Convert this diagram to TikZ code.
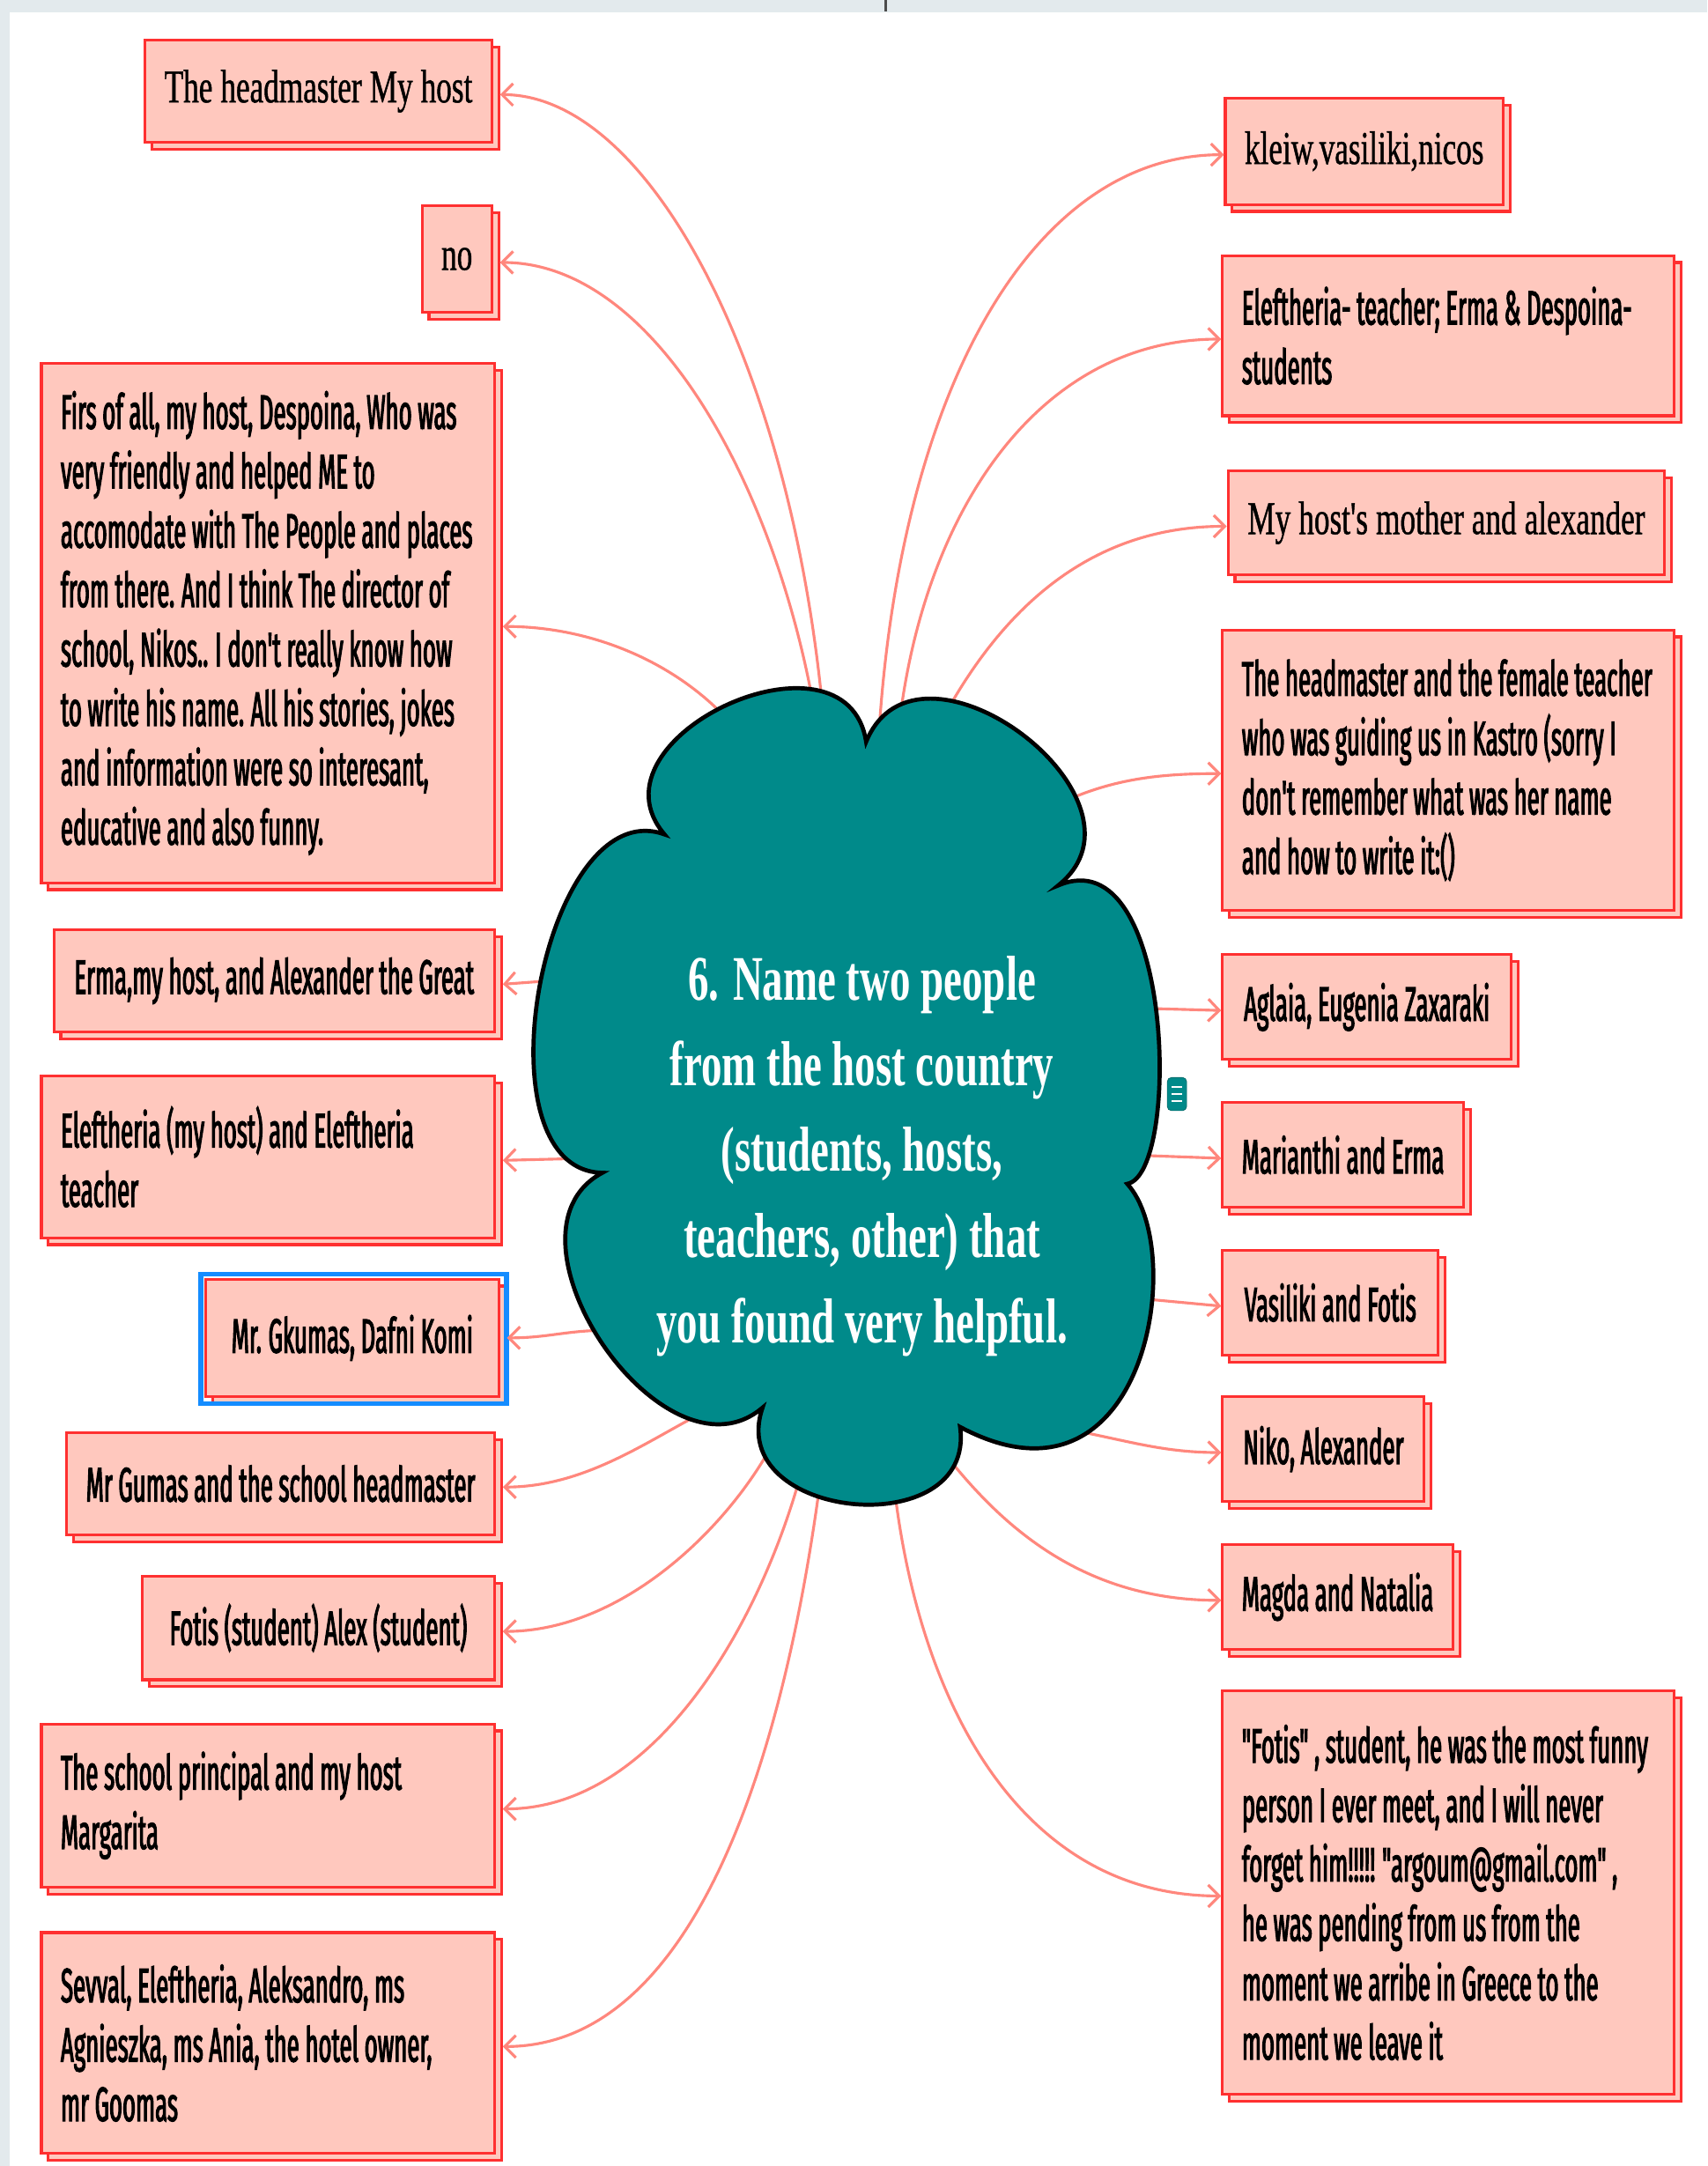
\documentclass[tikz,border=0pt]{standalone}
\usepackage{fontspec}
\usepackage{tikz}
\usetikzlibrary{arrows.meta,shadows}
\newfontfamily\answerfont{Fira Sans}[FakeStretch=0.47,FakeBold=2,WordSpace=0.5]
\newfontfamily\fancyfont{Liberation Serif}[FakeStretch=0.66,FakeBold=0.8,WordSpace=0.66]
\newfontfamily\cloudfont{Liberation Serif}[FakeStretch=0.65]
\definecolor{boxpink}{RGB}{255,200,190}
\definecolor{boxred}{RGB}{255,48,48}
\definecolor{linkred}{RGB}{255,135,125}
\definecolor{cloudteal}{RGB}{0,138,138}
\definecolor{selblue}{RGB}{20,140,255}
\definecolor{bargray}{RGB}{227,234,237}
\tikzstyle{answer}=[rectangle,draw=boxred,line width=2pt,fill=boxpink,
                copy shadow={shadow xshift=5pt,shadow yshift=-5pt},
                inner xsep=14pt,inner ysep=0pt,align=left,text=black,
                font=\answerfont\fontsize{35}{43}\selectfont,
                execute at begin node={\spaceskip=.12em plus .04em\xspaceskip=.14em\hyphenpenalty=10000}]
\tikzstyle{fancy}=[answer,font=\fancyfont\fontsize{34}{43}\selectfont,
                execute at begin node={\spaceskip=.17em plus .04em\xspaceskip=.19em\hyphenpenalty=10000}]
\tikzstyle{link}=[draw=linkred,line width=2pt,
                -{Straight Barb[length=8pt,width=16pt]}]
\tikzstyle{cloud}=[fill=cloudteal,draw=black,line width=3pt]

\begin{document}
\begin{tikzpicture}[x=1pt,y=-1pt]

% % % % % % % % % % % % % % %

\useasboundingbox (0,0) rectangle (1236,1568);
\fill[white] (0,0) rectangle (1236,1568);
\fill[bargray] (0,0) rectangle (1236,9);
\fill[bargray] (0,0) rectangle (7,1568);
\draw[black!70,line width=2pt] (641,0) -- (641,8);

% left answers
\node[fancy,anchor=north east,minimum width=250pt,minimum height=74pt] (L1) at (357,28) {The headmaster My host};
\node[fancy,anchor=north east,minimum width=50pt,minimum height=77pt] (L2) at (357,148) {no};
\node[answer,anchor=north east,text width=300pt,minimum height=376pt] (L3) at (359,262) {Firs of all, my host, Despoina, Who was\\very friendly and helped ME to\\accomodate with The People and places\\from there. And I think The director of\\school, Nikos.. I don't really know how\\to write his name. All his stories, jokes\\and information were so interesant,\\educative and also funny.};
\node[answer,anchor=north east,minimum width=319pt,minimum height=74pt] (L4) at (359,672) {Erma,my host, and Alexander the Great};
\node[answer,anchor=north east,text width=300pt,minimum height=117pt] (L5) at (359,778) {Eleftheria (my host) and Eleftheria\\teacher};
\node[answer,anchor=north east,minimum width=212pt,minimum height=85pt] (L6) at (362,925) {Mr. Gkumas, Dafni Komi};
\node[answer,anchor=north east,minimum width=309pt,minimum height=74pt] (L7) at (359,1036) {Mr Gumas and the school headmaster};
\node[answer,anchor=north east,minimum width=255pt,minimum height=75pt] (L8) at (359,1140) {Fotis (student) Alex (student)};
\node[answer,anchor=north east,text width=300pt,minimum height=118pt] (L9) at (359,1247) {The school principal and my host\\Margarita};
\node[answer,anchor=north east,text width=300pt,minimum height=160pt] (L10) at (359,1398) {Sevval, Eleftheria, Aleksandro, ms\\Agnieszka, ms Ania, the hotel owner,\\mr Goomas};

% right answers
\node[fancy,anchor=north west,minimum width=199pt,minimum height=77pt] (R1) at (886,70) {kleiw,vasiliki,nicos};
\node[answer,anchor=north west,text width=299pt,minimum height=116pt] (R2) at (884,184) {Eleftheria- teacher; Erma \& Despoina-\\students};
\node[fancy,anchor=north west,minimum width=316pt,minimum height=75pt] (R3) at (888,340) {My host's mother and alexander};
\node[answer,anchor=north west,text width=299pt,minimum height=203pt] (R4) at (884,455) {The headmaster and the female teacher\\who was guiding us in Kastro (sorry I\\don't remember what was her name\\and how to write it:()};
\node[answer,anchor=north west,minimum width=209pt,minimum height=76pt] (R5) at (884,690) {Aglaia, Eugenia Zaxaraki};
\node[answer,anchor=north west,minimum width=173pt,minimum height=76pt] (R6) at (884,797) {Marianthi and Erma};
\node[answer,anchor=north west,minimum width=156pt,minimum height=76pt] (R7) at (884,904) {Vasiliki and Fotis};
\node[answer,anchor=north west,minimum width=146pt,minimum height=76pt] (R8) at (884,1010) {Niko, Alexander};
\node[answer,anchor=north west,minimum width=166pt,minimum height=76pt] (R9) at (884,1117) {Magda and Natalia};
\node[answer,anchor=north west,text width=299pt,minimum height=292pt] (R10) at (884,1223) {"Fotis" , student, he was the most funny\\person I ever meet, and I will never\\forget him!!!!! "argoum@gmail.com" ,\\he was pending from us from the\\moment we arribe in Greece to the\\moment we leave it};

\draw[selblue,line width=3.5pt] ([shift={(-2.5pt,2.5pt)}]L6.north west) rectangle ([shift={(4.5pt,-4pt)}]L6.south east);

% % % % % % % % % % % % % % %

\coordinate (oL1) at (595,508);
\coordinate (oL2) at (588,506);
\coordinate (oL3) at (522,516);
\coordinate (oL4) at (398,710);
\coordinate (oL5) at (445,838);
\coordinate (oL6) at (440,963);
\coordinate (oL7) at (510,1022);
\coordinate (oL8) at (562,1040);
\coordinate (oL9) at (580,1066);
\coordinate (oL10) at (593,1078);
\coordinate (oR1) at (636,535);
\coordinate (oR2) at (652,516);
\coordinate (oR3) at (687,512);
\coordinate (oR4) at (760,585);
\coordinate (oR5) at (830,730);
\coordinate (oR6) at (815,836);
\coordinate (oR7) at (825,940);
\coordinate (oR8) at (780,1036);
\coordinate (oR9) at (686,1055);
\coordinate (oR10) at (648,1082);

\draw[link] (oL1) .. controls +(-25,-250) and +(106,0) .. ([xshift=5pt,yshift=-2.5pt]L1.east);
\draw[link] (oL2) .. controls +(-30,-160) and +(110,0) .. ([xshift=5pt,yshift=-2.5pt]L2.east);
\draw[link] (oL3) .. controls +(-40,-40) and +(60,0) .. ([xshift=5pt,yshift=-2.5pt]L3.east);
\draw[link] (oL4) -- ([xshift=5pt,yshift=-2.5pt]L4.east);
\draw[link] (oL5) -- ([xshift=5pt,yshift=-2.5pt]L5.east);
\draw[link] (oL6) .. controls +(-30,0) and +(30,0) .. ([xshift=5pt]L6.east);
\draw[link] (oL7) .. controls +(-40,20) and +(60,0) .. ([xshift=5pt,yshift=-2.5pt]L7.east);
\draw[link] (oL8) .. controls +(-30,60) and +(90,0) .. ([xshift=5pt,yshift=-2.5pt]L8.east);
\draw[link] (oL9) .. controls +(-30,110) and +(110,0) .. ([xshift=5pt,yshift=-2.5pt]L9.east);
\draw[link] (oL10) .. controls +(-30,220) and +(130,0) .. ([xshift=5pt,yshift=-2.5pt]L10.east);

\draw[link] (oR1) .. controls +(15,-250) and +(-140,0) .. ([yshift=-2.5pt]R1.west);
\draw[link] (oR2) .. controls +(20,-150) and +(-130,0) .. ([yshift=-2.5pt]R2.west);
\draw[link] (oR3) .. controls +(40,-70) and +(-100,0) .. ([yshift=-2.5pt]R3.west);
\draw[link] (oR4) .. controls +(40,-20) and +(-50,0) .. ([yshift=-2.5pt]R4.west);
\draw[link] (oR5) -- ([yshift=-2.5pt]R5.west);
\draw[link] (oR6) -- ([yshift=-2.5pt]R6.west);
\draw[link] (oR7) -- ([yshift=-2.5pt]R7.west);
\draw[link] (oR8) .. controls +(40,8) and +(-40,0) .. ([yshift=-2.5pt]R8.west);
\draw[link] (oR9) .. controls +(40,50) and +(-100,0) .. ([yshift=-2.5pt]R9.west);
\draw[link] (oR10) .. controls +(20,160) and +(-140,0) .. ([yshift=-2.5pt]R10.west);

% the question cloud
\draw[cloud] (481,604) .. controls (421.4,534.0) and (612.8,446.2) .. (627,537)
  .. controls (664.5,445.1) and (843.5,579.1) .. (766,641)
  .. controls (850,605) and (855,850) .. (816,857)
  .. controls (860,905) and (830,1105) .. (695,1033)
  .. controls (706.7,1118.5) and (523.9,1100.7) .. (552,1019)
  .. controls (480.8,1079.8) and (353.6,893.2) .. (436,849)
  .. controls (342.8,847.1) and (393.2,572.5) .. (481,604) -- cycle;

\node[align=center,text=white,font=\cloudfont\bfseries\fontsize{46}{62}\selectfont] (Q) at (624,837)
  {6. Name two people\\from the host country\\(students, hosts,\\teachers, other) that\\you found very helpful.};

\node[fill=cloudteal,draw=cloudteal!70!black,rounded corners=3pt,minimum width=14pt,minimum height=24pt,inner sep=0pt] (N) at (852,792) {};
\foreach \k in {-5,0,5}{
\draw[white,line width=1.6pt] ([shift={(-4pt,\k pt)}]N.center) -- ++(8pt,0);
}

\end{tikzpicture}
\end{document}
